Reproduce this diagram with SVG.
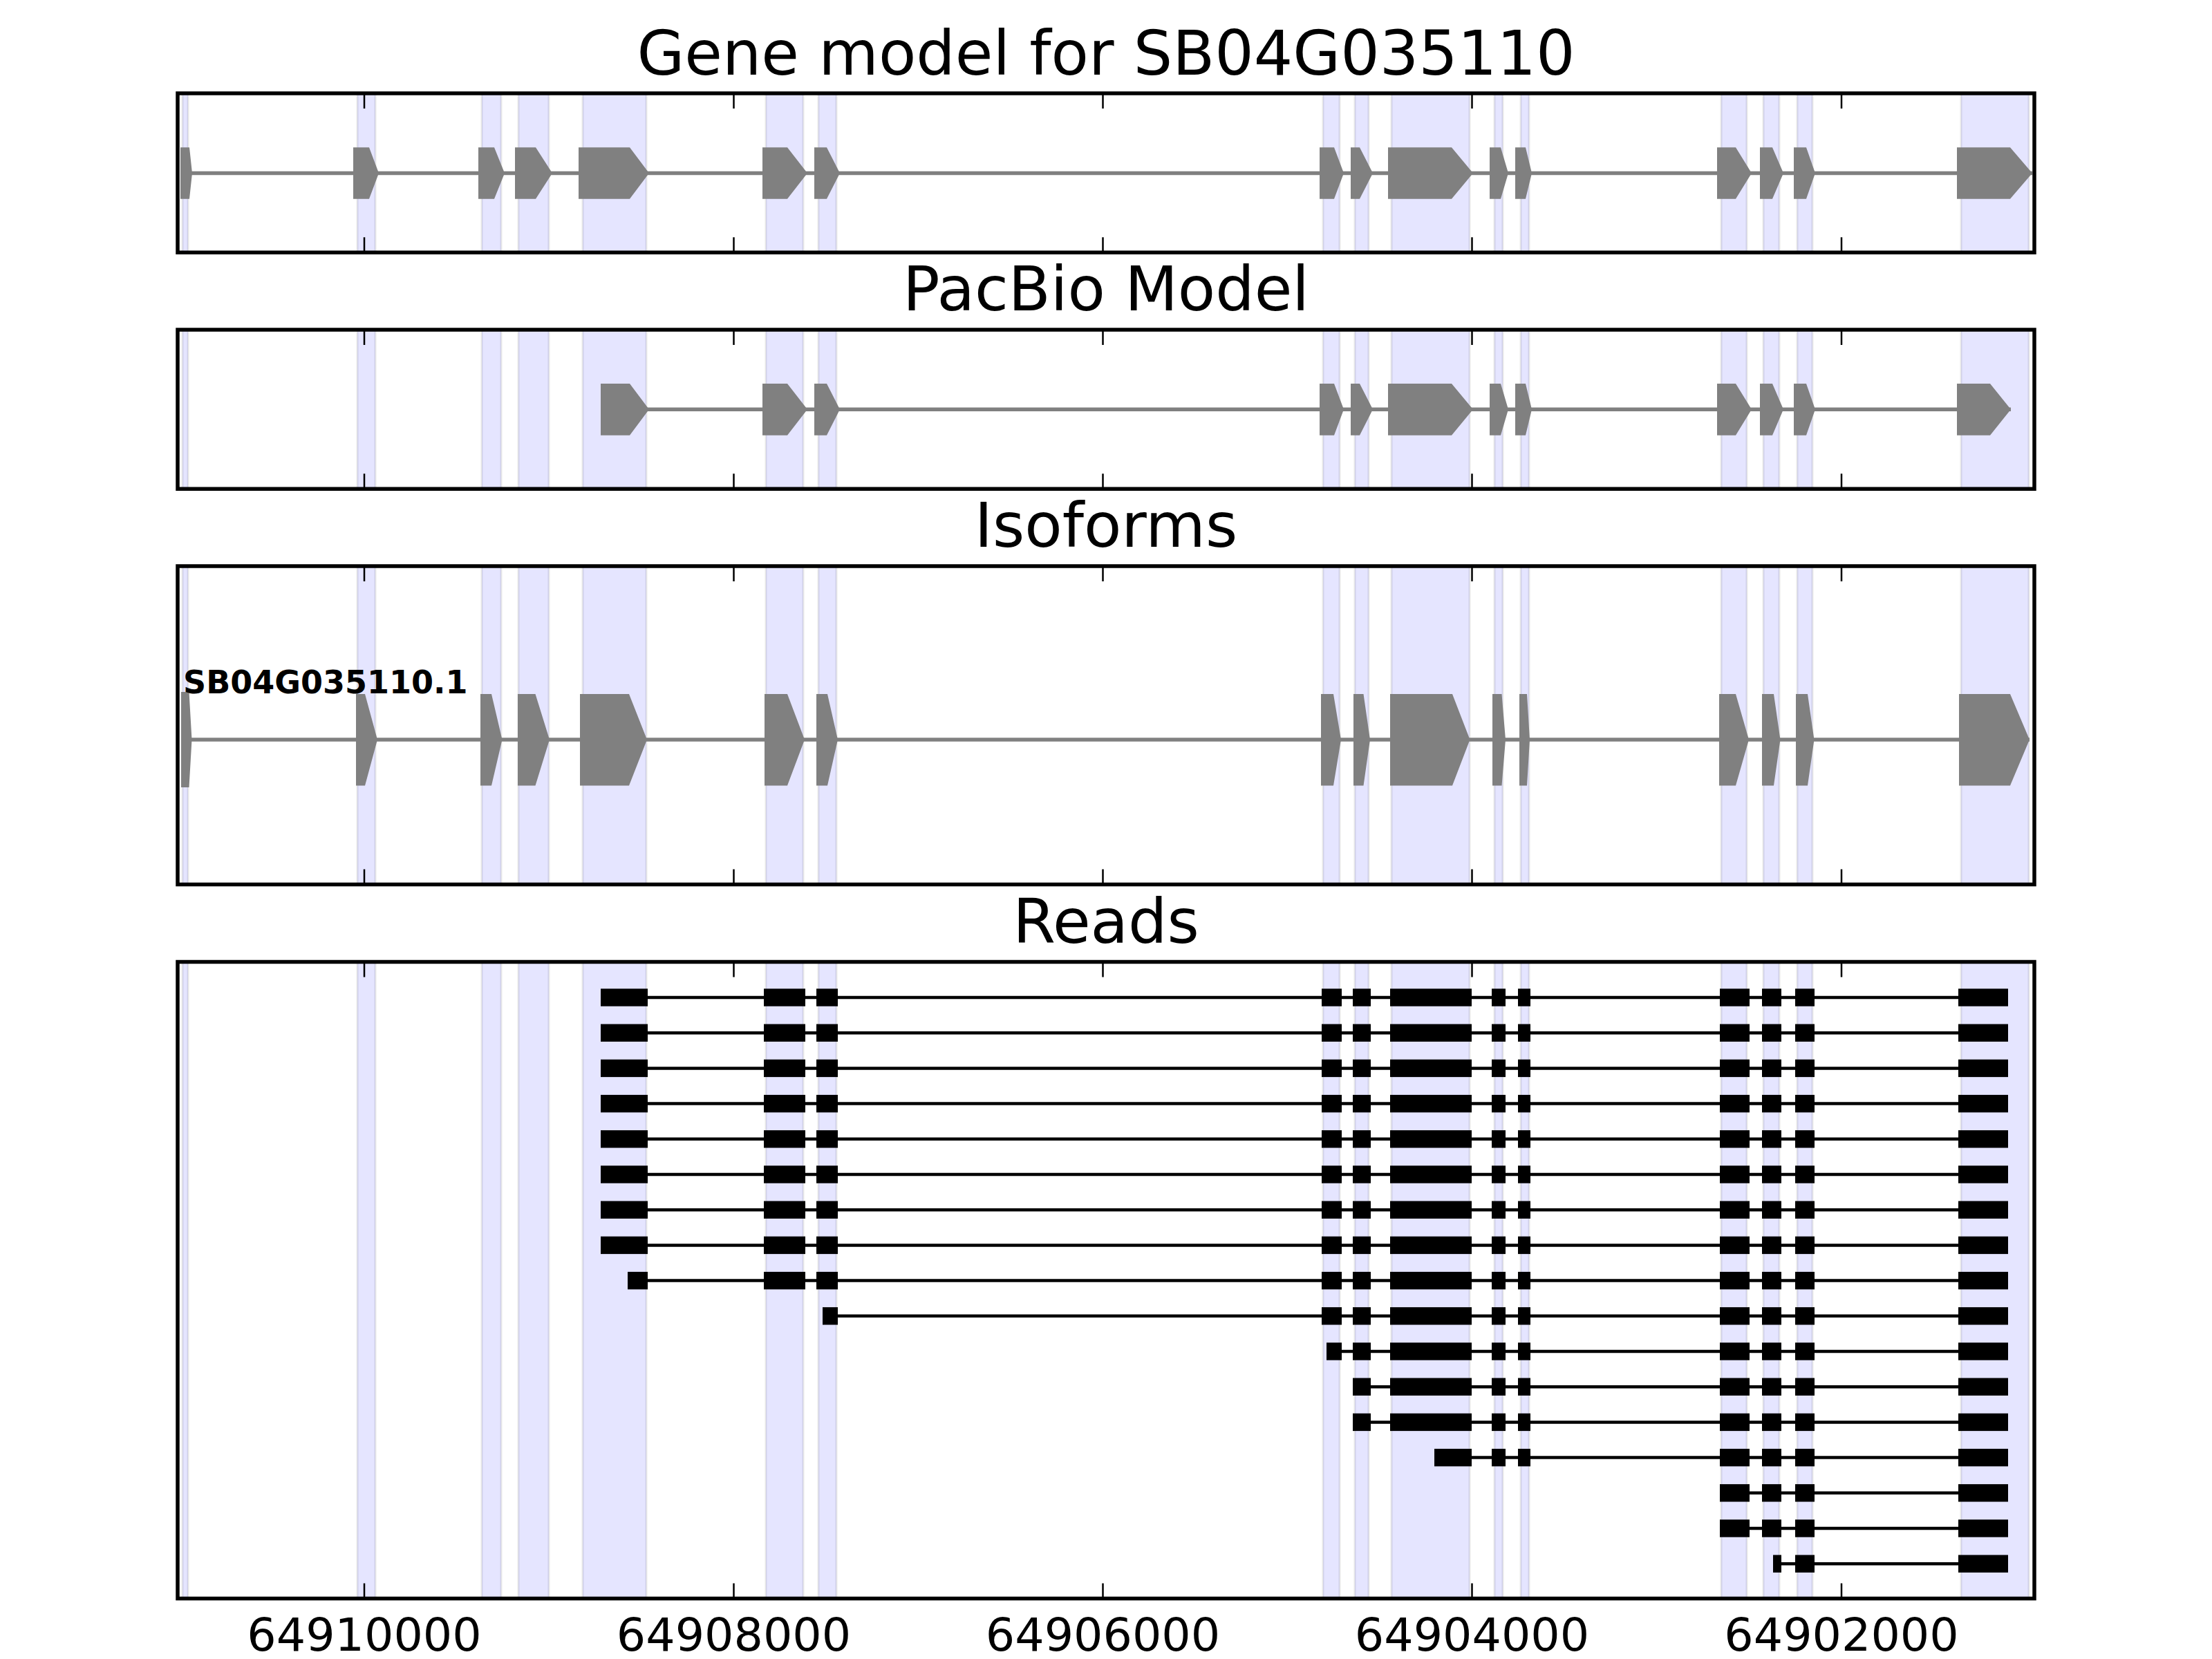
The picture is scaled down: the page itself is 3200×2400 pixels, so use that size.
<svg xmlns="http://www.w3.org/2000/svg" xmlns:xlink="http://www.w3.org/1999/xlink" width="3200" height="2400" viewBox="0 0 3200 2400">
<style>
.bg{fill:#fff}
.band{fill:#0000ff;fill-opacity:0.1;stroke:#000;stroke-opacity:0.09;stroke-width:3}
.frame{fill:none;stroke:#000;stroke-width:5.5}
.tick{stroke:#000;stroke-width:2.5}
.title{font-family:"DejaVu Sans","Liberation Sans",sans-serif;font-size:88.9px;fill:#000;text-anchor:middle}
.tl{font-family:"DejaVu Sans","Liberation Sans",sans-serif;font-size:66.7px;fill:#000;text-anchor:middle}
.lab{font-family:"DejaVu Sans","Liberation Sans",sans-serif;font-size:46px;font-weight:bold;fill:#000}
.gx{fill:#808080}
.gi{stroke:#808080;stroke-width:5.5}
.rx{fill:#000}
.ri{stroke:#000;stroke-width:4.5}
</style>
<defs>
<g id="x15"><rect class="rx" x="2597" y="-12.7" width="28" height="25.4"/><rect class="rx" x="2833" y="-12.7" width="72" height="25.4"/></g>
<g id="x13"><rect class="rx" x="2488" y="-12.7" width="43" height="25.4"/><rect class="rx" x="2549" y="-12.7" width="28" height="25.4"/><use xlink:href="#x15"/></g>
<g id="x11"><rect class="rx" x="2158" y="-12.7" width="20" height="25.4"/><rect class="rx" x="2196" y="-12.7" width="18" height="25.4"/><use xlink:href="#x13"/></g>
<g id="x9"><rect class="rx" x="1957" y="-12.7" width="26" height="25.4"/><rect class="rx" x="2011" y="-12.7" width="118" height="25.4"/><use xlink:href="#x11"/></g>
<g id="x8"><rect class="rx" x="1912" y="-12.7" width="29" height="25.4"/><use xlink:href="#x9"/></g>
<g id="xB"><rect class="rx" x="1105" y="-12.7" width="60" height="25.4"/><rect class="rx" x="1181" y="-12.7" width="31" height="25.4"/><use xlink:href="#x8"/></g>
</defs>
<rect class="bg" x="0" y="0" width="3200" height="2400"/>

<g id="panel-gene-model">
<text class="title" x="1600" y="108">Gene model for SB04G035110</text>
<g class="bands">
<rect class="band" x="264" y="135" width="8" height="230.25"/>
<rect class="band" x="517" y="135" width="26" height="230.25"/>
<rect class="band" x="697" y="135" width="28" height="230.25"/>
<rect class="band" x="750" y="135" width="44" height="230.25"/>
<rect class="band" x="843" y="135" width="92" height="230.25"/>
<rect class="band" x="1108" y="135" width="54" height="230.25"/>
<rect class="band" x="1184" y="135" width="26" height="230.25"/>
<rect class="band" x="1914" y="135" width="24" height="230.25"/>
<rect class="band" x="1960" y="135" width="20" height="230.25"/>
<rect class="band" x="2013" y="135" width="113" height="230.25"/>
<rect class="band" x="2162" y="135" width="12" height="230.25"/>
<rect class="band" x="2200" y="135" width="12" height="230.25"/>
<rect class="band" x="2490" y="135" width="37" height="230.25"/>
<rect class="band" x="2551" y="135" width="23" height="230.25"/>
<rect class="band" x="2600" y="135" width="22" height="230.25"/>
<rect class="band" x="2837" y="135" width="98" height="230.25"/>
</g>
<line class="gi" x1="261" y1="250.5" x2="2940" y2="250.5"/>
<path class="gx" d="M261,213.3H274L278,250.5L274,287.7H261Z M511,213.3H534L548,250.5L534,287.7H511Z M692,213.3H715L730,250.5L715,287.7H692Z M745,213.3H775L799,250.5L775,287.7H745Z M837,213.3H911L939,250.5L911,287.7H837Z M1103,213.3H1139L1168,250.5L1139,287.7H1103Z M1178,213.3H1196L1215,250.5L1196,287.7H1178Z M1909,213.3H1930L1944,250.5L1930,287.7H1909Z M1954,213.3H1967L1986,250.5L1967,287.7H1954Z M2008,213.3H2100L2131,250.5L2100,287.7H2008Z M2155,213.3H2171L2182,250.5L2171,287.7H2155Z M2192,213.3H2207L2216,250.5L2207,287.7H2192Z M2484,213.3H2511L2534,250.5L2511,287.7H2484Z M2546,213.3H2564L2580,250.5L2564,287.7H2546Z M2595,213.3H2613L2626,250.5L2613,287.7H2595Z M2831,213.3H2908L2940,250.5L2908,287.7H2831Z"/>
<path class="tick" d="M527,135v22M1061.5,135v22M1595.5,135v22M2129.5,135v22M2664,135v22M527,365.25v-22M1061.5,365.25v-22M1595.5,365.25v-22M2129.5,365.25v-22M2664,365.25v-22"/>
<rect class="frame" x="257" y="135" width="2686" height="230.25"/>
</g>

<g id="panel-pacbio">
<text class="title" x="1600" y="449">PacBio Model</text>
<g class="bands">
<rect class="band" x="264" y="477" width="8" height="230.25"/>
<rect class="band" x="517" y="477" width="26" height="230.25"/>
<rect class="band" x="697" y="477" width="28" height="230.25"/>
<rect class="band" x="750" y="477" width="44" height="230.25"/>
<rect class="band" x="843" y="477" width="92" height="230.25"/>
<rect class="band" x="1108" y="477" width="54" height="230.25"/>
<rect class="band" x="1184" y="477" width="26" height="230.25"/>
<rect class="band" x="1914" y="477" width="24" height="230.25"/>
<rect class="band" x="1960" y="477" width="20" height="230.25"/>
<rect class="band" x="2013" y="477" width="113" height="230.25"/>
<rect class="band" x="2162" y="477" width="12" height="230.25"/>
<rect class="band" x="2200" y="477" width="12" height="230.25"/>
<rect class="band" x="2490" y="477" width="37" height="230.25"/>
<rect class="band" x="2551" y="477" width="23" height="230.25"/>
<rect class="band" x="2600" y="477" width="22" height="230.25"/>
<rect class="band" x="2837" y="477" width="98" height="230.25"/>
</g>
<line class="gi" x1="869" y1="592.3" x2="2909" y2="592.3"/>
<path class="gx" d="M869,555H911L939,592.3L911,629.7H869Z M1103,555H1139L1168,592.3L1139,629.7H1103Z M1178,555H1196L1215,592.3L1196,629.7H1178Z M1909,555H1930L1944,592.3L1930,629.7H1909Z M1954,555H1967L1986,592.3L1967,629.7H1954Z M2008,555H2100L2131,592.3L2100,629.7H2008Z M2155,555H2171L2182,592.3L2171,629.7H2155Z M2192,555H2207L2216,592.3L2207,629.7H2192Z M2484,555H2511L2534,592.3L2511,629.7H2484Z M2546,555H2564L2580,592.3L2564,629.7H2546Z M2595,555H2613L2626,592.3L2613,629.7H2595Z M2831,555H2879L2909,592.3L2879,629.7H2831Z"/>
<path class="tick" d="M527,477v22M1061.5,477v22M1595.5,477v22M2129.5,477v22M2664,477v22M527,707.25v-22M1061.5,707.25v-22M1595.5,707.25v-22M2129.5,707.25v-22M2664,707.25v-22"/>
<rect class="frame" x="257" y="477" width="2686" height="230.25"/>
</g>

<g id="panel-isoforms">
<text class="title" x="1600" y="791">Isoforms</text>
<g class="bands">
<rect class="band" x="264" y="819" width="8" height="460.5"/>
<rect class="band" x="517" y="819" width="26" height="460.5"/>
<rect class="band" x="697" y="819" width="28" height="460.5"/>
<rect class="band" x="750" y="819" width="44" height="460.5"/>
<rect class="band" x="843" y="819" width="92" height="460.5"/>
<rect class="band" x="1108" y="819" width="54" height="460.5"/>
<rect class="band" x="1184" y="819" width="26" height="460.5"/>
<rect class="band" x="1914" y="819" width="24" height="460.5"/>
<rect class="band" x="1960" y="819" width="20" height="460.5"/>
<rect class="band" x="2013" y="819" width="113" height="460.5"/>
<rect class="band" x="2162" y="819" width="12" height="460.5"/>
<rect class="band" x="2200" y="819" width="12" height="460.5"/>
<rect class="band" x="2490" y="819" width="37" height="460.5"/>
<rect class="band" x="2551" y="819" width="23" height="460.5"/>
<rect class="band" x="2600" y="819" width="22" height="460.5"/>
<rect class="band" x="2837" y="819" width="98" height="460.5"/>
</g>
<g id="isoform-SB04G035110.1">
<line class="gi" x1="262" y1="1070" x2="2936" y2="1070"/>
<path class="gx" d="M262,1001H273.5L277.5,1070L273.5,1139H262Z M515,1004H528L546,1070L528,1136.4H515Z M695,1004H711L726.5,1070L711,1136.4H695Z M749,1004H774.5L795,1070L774.5,1136.4H749Z M839,1004H910L936,1070L910,1136.4H839Z M1106,1004H1139L1164,1070L1139,1136.4H1106Z M1181,1004H1197L1212,1070L1197,1136.4H1181Z M1911,1004H1929L1940,1070L1929,1136.4H1911Z M1958,1004H1972.5L1982,1070L1972.5,1136.4H1958Z M2011,1004H2101L2126.5,1070L2101,1136.4H2011Z M2159,1004H2172.5L2178,1070L2172.5,1136.4H2159Z M2198,1004H2209L2213,1070L2209,1136.4H2198Z M2487,1004H2511L2530,1070L2511,1136.4H2487Z M2549,1004H2566L2575.5,1070L2566,1136.4H2549Z M2598,1004H2615L2624.5,1070L2615,1136.4H2598Z M2834,1004H2908L2936,1070L2908,1136.4H2834Z"/>
<text class="lab" x="265" y="1003">SB04G035110.1</text>
</g>
<path class="tick" d="M527,819v22M1061.5,819v22M1595.5,819v22M2129.5,819v22M2664,819v22M527,1279.5v-22M1061.5,1279.5v-22M1595.5,1279.5v-22M2129.5,1279.5v-22M2664,1279.5v-22"/>
<rect class="frame" x="257" y="819" width="2686" height="460.5"/>
</g>

<g id="panel-reads">
<text class="title" x="1600" y="1364">Reads</text>
<g class="bands">
<rect class="band" x="264" y="1391.5" width="8" height="921"/>
<rect class="band" x="517" y="1391.5" width="26" height="921"/>
<rect class="band" x="697" y="1391.5" width="28" height="921"/>
<rect class="band" x="750" y="1391.5" width="44" height="921"/>
<rect class="band" x="843" y="1391.5" width="92" height="921"/>
<rect class="band" x="1108" y="1391.5" width="54" height="921"/>
<rect class="band" x="1184" y="1391.5" width="26" height="921"/>
<rect class="band" x="1914" y="1391.5" width="24" height="921"/>
<rect class="band" x="1960" y="1391.5" width="20" height="921"/>
<rect class="band" x="2013" y="1391.5" width="113" height="921"/>
<rect class="band" x="2162" y="1391.5" width="12" height="921"/>
<rect class="band" x="2200" y="1391.5" width="12" height="921"/>
<rect class="band" x="2490" y="1391.5" width="37" height="921"/>
<rect class="band" x="2551" y="1391.5" width="23" height="921"/>
<rect class="band" x="2600" y="1391.5" width="22" height="921"/>
<rect class="band" x="2837" y="1391.5" width="98" height="921"/>
</g>
<g id="read-1" transform="translate(0,1443)"><line class="ri" x1="869" y1="0" x2="2905" y2="0"/><rect class="rx" x="869" y="-12.7" width="68" height="25.4"/><use xlink:href="#xB"/></g>
<g id="read-2" transform="translate(0,1494.2)"><line class="ri" x1="869" y1="0" x2="2905" y2="0"/><rect class="rx" x="869" y="-12.7" width="68" height="25.4"/><use xlink:href="#xB"/></g>
<g id="read-3" transform="translate(0,1545.4)"><line class="ri" x1="869" y1="0" x2="2905" y2="0"/><rect class="rx" x="869" y="-12.7" width="68" height="25.4"/><use xlink:href="#xB"/></g>
<g id="read-4" transform="translate(0,1596.6)"><line class="ri" x1="869" y1="0" x2="2905" y2="0"/><rect class="rx" x="869" y="-12.7" width="68" height="25.4"/><use xlink:href="#xB"/></g>
<g id="read-5" transform="translate(0,1647.8)"><line class="ri" x1="869" y1="0" x2="2905" y2="0"/><rect class="rx" x="869" y="-12.7" width="68" height="25.4"/><use xlink:href="#xB"/></g>
<g id="read-6" transform="translate(0,1699)"><line class="ri" x1="869" y1="0" x2="2905" y2="0"/><rect class="rx" x="869" y="-12.7" width="68" height="25.4"/><use xlink:href="#xB"/></g>
<g id="read-7" transform="translate(0,1750.2)"><line class="ri" x1="869" y1="0" x2="2905" y2="0"/><rect class="rx" x="869" y="-12.7" width="68" height="25.4"/><use xlink:href="#xB"/></g>
<g id="read-8" transform="translate(0,1801.4)"><line class="ri" x1="869" y1="0" x2="2905" y2="0"/><rect class="rx" x="869" y="-12.7" width="68" height="25.4"/><use xlink:href="#xB"/></g>
<g id="read-9" transform="translate(0,1852.6)"><line class="ri" x1="908" y1="0" x2="2905" y2="0"/><rect class="rx" x="908" y="-12.7" width="29" height="25.4"/><use xlink:href="#xB"/></g>
<g id="read-10" transform="translate(0,1903.8)"><line class="ri" x1="1190" y1="0" x2="2905" y2="0"/><rect class="rx" x="1190" y="-12.7" width="22" height="25.4"/><use xlink:href="#x8"/></g>
<g id="read-11" transform="translate(0,1955)"><line class="ri" x1="1919" y1="0" x2="2905" y2="0"/><rect class="rx" x="1919" y="-12.7" width="22" height="25.4"/><use xlink:href="#x9"/></g>
<g id="read-12" transform="translate(0,2006.2)"><line class="ri" x1="1957" y1="0" x2="2905" y2="0"/><use xlink:href="#x9"/></g>
<g id="read-13" transform="translate(0,2057.4)"><line class="ri" x1="1957" y1="0" x2="2905" y2="0"/><use xlink:href="#x9"/></g>
<g id="read-14" transform="translate(0,2108.6)"><line class="ri" x1="2075" y1="0" x2="2905" y2="0"/><rect class="rx" x="2075" y="-12.7" width="54" height="25.4"/><use xlink:href="#x11"/></g>
<g id="read-15" transform="translate(0,2159.8)"><line class="ri" x1="2488" y1="0" x2="2905" y2="0"/><use xlink:href="#x13"/></g>
<g id="read-16" transform="translate(0,2211)"><line class="ri" x1="2488" y1="0" x2="2905" y2="0"/><use xlink:href="#x13"/></g>
<g id="read-17" transform="translate(0,2262.2)"><line class="ri" x1="2565" y1="0" x2="2905" y2="0"/><rect class="rx" x="2565" y="-12.7" width="12" height="25.4"/><use xlink:href="#x15"/></g>
<path class="tick" d="M527,1391.5v22M1061.5,1391.5v22M1595.5,1391.5v22M2129.5,1391.5v22M2664,1391.5v22M527,2312.5v-22M1061.5,2312.5v-22M1595.5,2312.5v-22M2129.5,2312.5v-22M2664,2312.5v-22"/>
<rect class="frame" x="257" y="1391.5" width="2686" height="921"/>
<g id="x-tick-labels">
<text class="tl" x="527" y="2388">64910000</text>
<text class="tl" x="1061.5" y="2388">64908000</text>
<text class="tl" x="1595.5" y="2388">64906000</text>
<text class="tl" x="2129.5" y="2388">64904000</text>
<text class="tl" x="2664" y="2388">64902000</text>
</g>
</g>
</svg>
